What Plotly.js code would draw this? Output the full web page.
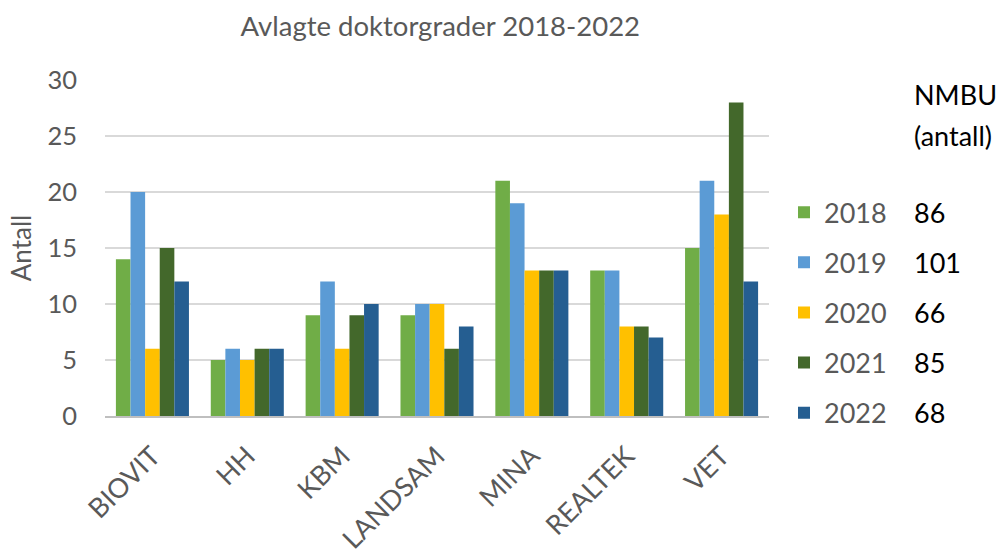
<!DOCTYPE html>
<html>
<head>
<meta charset="utf-8">
<script src="https://cdn.plot.ly/plotly-3.0.1.min.js"></script>
<style>html,body{margin:0;padding:0;background:#fff;}#chart{width:1001px;height:559px;}</style>
</head>
<body>
<div id="chart"></div>
<script>
const categories = ["BIOVIT", "HH", "KBM", "LANDSAM", "MINA", "REALTEK", "VET"];
const years = ["2018", "2019", "2020", "2021", "2022"];
const v2018 = [14, 5, 9, 9, 21, 13, 15];
const v2019 = [20, 6, 12, 10, 19, 13, 21];
const v2020 = [6, 5, 6, 10, 13, 8, 18];
const v2021 = [15, 6, 9, 6, 13, 8, 28];
const v2022 = [12, 6, 10, 8, 13, 7, 12];
const totals = [86, 101, 66, 85, 68];
const yTicks = [0, 5, 10, 15, 20, 25, 30];

const series = [v2018, v2019, v2020, v2021, v2022];
const colors = ["#70AD47", "#5B9BD5", "#FFC000", "#43682B", "#255E91"];
const FONT = "Lato, 'Open Sans', sans-serif";

const traces = series.map((vals, i) => ({
  type: "bar",
  name: years[i],
  x: categories,
  y: vals,
  legendgroup: "g" + i,
  marker: {color: colors[i], line: {width: 0}},
  hoverinfo: "x+y+name"
}));

const legTop = 212, legStep = 50.2;
const plotTop = 79.5, plotBot = 416.5;
const toPaperY = p => (plotBot - p) / (plotBot - plotTop);

const annotations = [
  {text: "NMBU", x: 912, y: 94},
  {text: "(antall)", x: 912, y: 135}
].concat(totals.map((t, i) => ({text: String(t), x: 912, y: legTop + i * legStep})))
 .map(a => ({
  text: a.text,
  xref: "paper", yref: "paper",
  x: (a.x - 105) / (769 - 105), y: toPaperY(a.y),
  xanchor: "left", yanchor: "middle",
  showarrow: false,
  font: {family: FONT, size: 27, color: "#000000"}
}));

const layout = {
  width: 1001, height: 559,
  margin: {l: 105, r: 232, t: 79.5, b: 142.5, pad: 0},
  paper_bgcolor: "#ffffff", plot_bgcolor: "#ffffff",
  font: {family: FONT, color: "#595959"},
  title: {
    text: "Avlagte doktorgrader 2018-2022",
    font: {family: FONT, size: 27.5, color: "#595959"},
    x: 0.505, xanchor: "center", xref: "paper",
    y: 0.952, yanchor: "middle", yref: "container"
  },
  barmode: "group",
  bargap: 0.23,
  bargroupgap: 0,
  xaxis: {
    type: "category",
    tickangle: -45,
    tickfont: {family: FONT, size: 27, color: "#595959"},
    ticklabelstandoff: 12,
    showgrid: false,
    showline: true, linecolor: "#BFBFBF", linewidth: 1.5,
    ticks: "", zeroline: false
  },
  yaxis: {
    range: [0, 30],
    tickvals: yTicks,
    ticktext: yTicks.map(String),
    tickfont: {family: FONT, size: 25.5, color: "#595959"},
    showgrid: true, gridcolor: "#D9D9D9", gridwidth: 1.5,
    zeroline: false, showline: false, ticks: "",
    ticklabelstandoff: 27,
    title: {text: "Antall", font: {family: FONT, size: 26, color: "#595959"}, standoff: 8}
  },
  showlegend: true,
  legend: {
    x: (784 - 105) / 664, xanchor: "left",
    y: toPaperY(legTop - 24), yanchor: "top",
    font: {family: FONT, size: 27, color: "#595959"},
    traceorder: "grouped",
    tracegroupgap: 12,
    bgcolor: "rgba(0,0,0,0)"
  },
  annotations: annotations
};

Plotly.newPlot("chart", traces, layout, {displayModeBar: false, staticPlot: true});
</script>
</body>
</html>
